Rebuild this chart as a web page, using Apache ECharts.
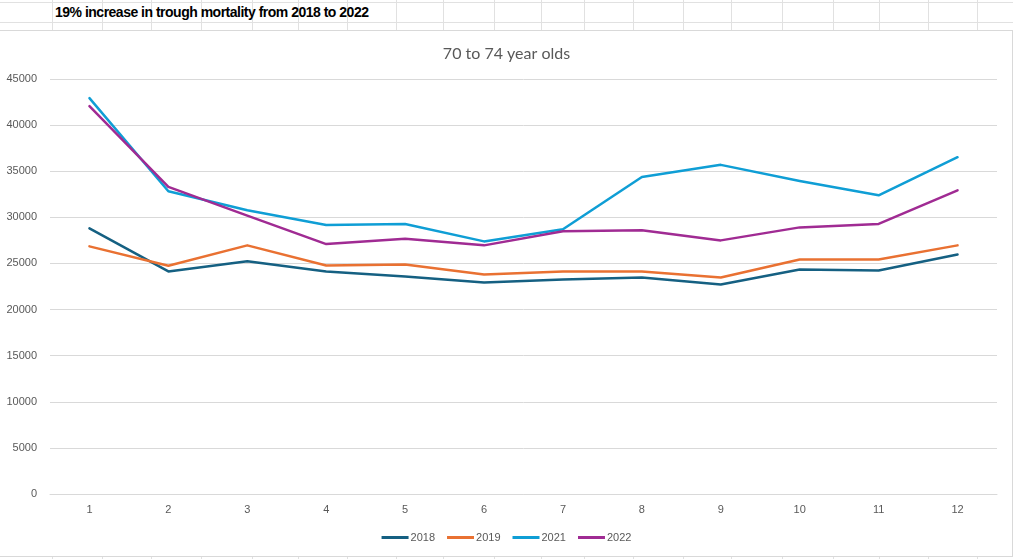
<!DOCTYPE html>
<html>
<head>
<meta charset="utf-8">
<script src="https://cdn.jsdelivr.net/npm/echarts@6/dist/echarts.min.js"></script>
<style>
html,body{margin:0;padding:0;background:#fff;}
#wrap{position:relative;width:1013px;height:559px;overflow:hidden;}
.hl{position:absolute;left:0;width:1013px;height:1px;background:#e1e1e1;}
.vl{position:absolute;width:1px;background:#e1e1e1;}
#box{position:absolute;left:-1px;top:30px;width:1012px;height:525px;border:1px solid #d9d9d9;background:#fff;}
#sheetTitle{position:absolute;left:55px;top:4px;font:bold 14px "Liberation Sans Narrow","Arial Narrow",sans-serif;letter-spacing:-0.5px;color:#000;white-space:nowrap;}
#main{position:absolute;left:0;top:0;width:1013px;height:559px;}
</style>
</head>
<body>
<div id="wrap">
  <div id="bg"></div>
  <div id="box"></div>
  <div id="sheetTitle"></div>
  <div id="main"></div>
</div>
<script>
const months = ['1','2','3','4','5','6','7','8','9','10','11','12'];
const y2018 = [28800, 24130, 25250, 24130, 23590, 22930, 23260, 23480, 22720, 24350, 24240, 25980];
const y2019 = [26850, 24750, 26960, 24780, 24890, 23800, 24130, 24130, 23480, 25430, 25430, 26960];
const y2021 = [42930, 32830, 30760, 29170, 29280, 27390, 28700, 34380, 35690, 33950, 32390, 36520];
const y2022 = [42070, 33300, 30180, 27100, 27680, 26960, 28480, 28590, 27500, 28910, 29280, 32930];
const seriesNames = ['2018', '2019', '2021', '2022'];
const colors = ['#156082', '#E97132', '#0F9ED5', '#A02B93'];
const sheetTitle = '19% increase in trough mortality from 2018 to 2022';
const chartTitle = '70 to 74 year olds';

// spreadsheet background gridlines
const vCols = [52,102,151,201,252,298,347,396,443,494,541,584,633,683,731,782,833,879,928,977];
const bg = document.getElementById('bg');
let html = '';
[2, 22].forEach(y => { html += '<div class="hl" style="top:' + y + 'px"></div>'; });
vCols.forEach(x => {
  html += '<div class="vl" style="left:' + x + 'px;top:0;height:30px"></div>';
  html += '<div class="vl" style="left:' + x + 'px;top:556px;height:3px"></div>';
});
bg.innerHTML = html;
document.getElementById('sheetTitle').textContent = sheetTitle;

const series = [y2018, y2019, y2021, y2022].map((d, i) => ({
  name: seriesNames[i],
  type: 'line',
  data: d,
  symbol: 'none',
  lineStyle: {width: 2.5, color: colors[i], cap: 'round', join: 'round'},
  itemStyle: {color: colors[i]},
  z: 3
}));

const chart = echarts.init(document.getElementById('main'));
chart.setOption({
  animation: false,
  backgroundColor: 'transparent',
  title: {
    text: chartTitle,
    left: 'center',
    top: 41,
    textStyle: {fontFamily: 'Lato, "Open Sans", sans-serif', fontSize: 16, fontWeight: 'normal', color: '#595959'}
  },
  legend: {
    data: seriesNames,
    bottom: 11,
    left: 'center',
    icon: 'rect',
    itemWidth: 27,
    itemHeight: 3,
    itemGap: 12,
    textStyle: {fontFamily: '"Liberation Sans", Arial, sans-serif', fontSize: 11, color: '#595959', padding: [0, 0, 0, -3]}
  },
  grid: {left: 50, right: 16, top: 79, bottom: 65, containLabel: false},
  xAxis: {
    type: 'category',
    data: months,
    boundaryGap: true,
    axisLine: {lineStyle: {color: '#d9d9d9'}},
    axisTick: {show: false},
    axisLabel: {fontFamily: '"Liberation Sans", Arial, sans-serif', fontSize: 11, color: '#595959', margin: 10}
  },
  yAxis: {
    type: 'value',
    min: 0,
    max: 45000,
    interval: 5000,
    axisLine: {show: false},
    axisTick: {show: false},
    splitLine: {lineStyle: {color: '#d9d9d9', width: 1}},
    axisLabel: {fontFamily: '"Liberation Sans", Arial, sans-serif', fontSize: 11, color: '#595959', margin: 13,
      formatter: v => String(v)}
  },
  series: series
});
</script>
</body>
</html>
